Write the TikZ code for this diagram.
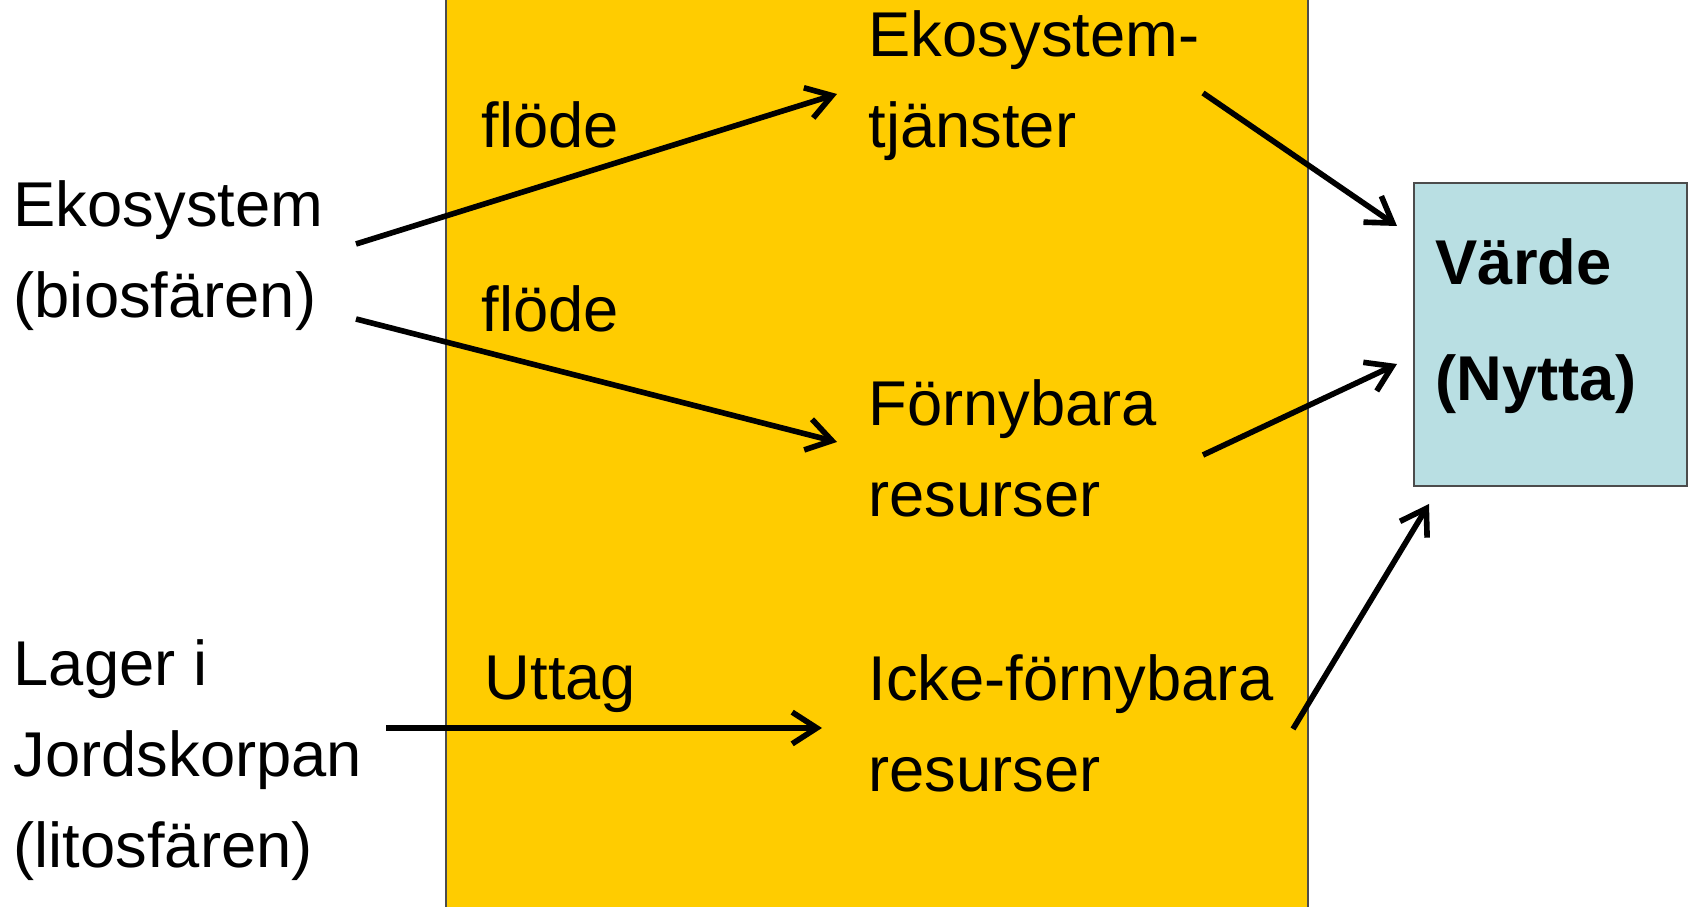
\documentclass[tikz,border=0pt]{standalone}
\usepackage{fontspec}
\setmainfont{Liberation Sans}
\usetikzlibrary{arrows.meta}
\definecolor{band}{RGB}{255,204,0}
\definecolor{valuebox}{RGB}{185,223,227}

\begin{document}
\begin{tikzpicture}[x=0.01cm,y=-0.01cm,
        txt/.style={anchor=base west,inner sep=0pt,align=left,font=\fontsize{18}{26}\selectfont},
        flow/.style={line width=1.6pt,-{Straight Barb[length=7pt,width=9pt]}}]
            \useasboundingbox (0,0) rectangle (1690,907);
            \draw[fill=band,draw=black!70] (446,-10) rectangle (1308,920);
            \draw[fill=valuebox,draw=black!70] (1414,183) rectangle (1687,486);
            \node[txt] (eko) at (13,318) {Ekosystem\\(biosfären)};
            \node[txt] (lager) at (13,868) {Lager i\\Jordskorpan\\(litosfären)};
            \node[txt] (flode1) at (481,148) {flöde};
            \node[txt] (flode2) at (481,332) {flöde};
            \node[txt] (uttag) at (484,700) {Uttag};
            \node[txt] (tjanst) at (868,148) {Ekosystem-\\tjänster};
            \node[txt] (fornyb) at (868,517) {Förnybara\\resurser};
            \node[txt] (icke) at (868,792) {Icke-förnybara\\resurser};
            \node[txt,font=\bfseries\fontsize{18}{33}\selectfont] (varde) at (1435,401) {Värde\\(Nytta)};
            \coordinate (ekoA) at (356,244);
            \coordinate (ekoB) at (356,319);
            \coordinate (lagerA) at (386,728);
            \coordinate (tjanstIn) at (837,94);
            \coordinate (fornybIn) at (837,442);
            \coordinate (ickeIn) at (822,728);
            \coordinate (tjanstUt) at (1203,93);
            \coordinate (fornybUt) at (1203,455);
            \coordinate (ickeUt) at (1293,729);
            \coordinate (vardeA) at (1397,226);
            \coordinate (vardeB) at (1397,364);
            \coordinate (vardeC) at (1429,504);
            \draw[flow] (ekoA) to (tjanstIn);
            \draw[flow] (ekoB) to (fornybIn);
            \draw[flow] (lagerA) to (ickeIn);
            \draw[flow] (tjanstUt) to (vardeA);
            \draw[flow] (fornybUt) to (vardeB);
            \draw[flow] (ickeUt) to (vardeC);
        \end{tikzpicture}
\end{document}
